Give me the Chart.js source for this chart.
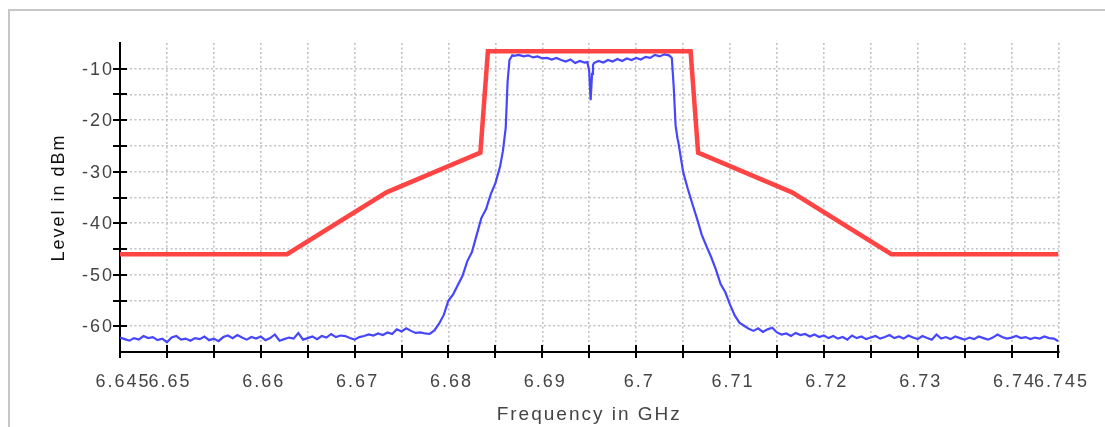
<!DOCTYPE html>
<html>
<head>
<meta charset="utf-8">
<script src="https://cdn.jsdelivr.net/npm/chart.js@4.4.1/dist/chart.umd.min.js"></script>
<style>
  html, body { margin: 0; padding: 0; background: #fff; }
  #frame { position: absolute; left: 8px; top: 9px; width: 1200px; height: 500px;
           border-left: 2px solid #c6c6c6; border-top: 2px solid #c6c6c6; }
  #Chart { position: absolute; left: 0; top: 0; }
</style>
</head>
<body>
<div id="frame"></div>
<canvas id="Chart" width="1105" height="427"></canvas>
<script>
// spectrum trace (GHz / dBm)
const traceFreq = [
  6.6450,6.6455,6.6460,6.6465,6.6470,6.6475,6.6480,6.6485,6.6490,6.6495,
  6.6500,6.6505,6.6510,6.6515,6.6520,6.6525,6.6530,6.6535,6.6540,6.6545,
  6.6550,6.6555,6.6560,6.6565,6.6570,6.6575,6.6580,6.6585,6.6590,6.6595,
  6.6600,6.6605,6.6610,6.6615,6.6620,6.6625,6.6630,6.6635,6.6640,6.6645,
  6.6650,6.6655,6.6660,6.6665,6.6670,6.6675,6.6680,6.6685,6.6690,6.6695,
  6.6700,6.6705,6.6710,6.6715,6.6720,6.6725,6.6730,6.6735,6.6740,6.6745,
  6.6750,6.6755,6.6760,6.6765,6.6770,6.6775,6.6780,6.6785,
  6.6790,6.6795,6.6800,6.6805,6.6810,6.6815,6.6820,6.6825,6.6830,6.6835,
  6.6840,6.6845,6.6850,6.6855,6.6858,6.6861,6.6863,6.6865,6.6868,
  6.6870,6.6875,6.6880,6.6885,6.6890,6.6895,6.6900,6.6905,6.6910,6.6915,
  6.6920,6.6925,6.6930,6.6935,6.6940,6.6945,6.6948,6.6950,6.6951,6.69515,
  6.6953,6.6954,6.6955,6.6960,6.6965,6.6970,6.6975,6.6980,6.6985,6.6990,
  6.6995,6.7000,6.7005,6.7010,6.7015,6.7020,6.7025,6.7030,6.7035,6.7038,
  6.7040,6.7042,6.7044,6.7045,6.7050,6.7055,6.7060,6.7065,6.7070,6.7075,
  6.7080,6.7085,6.7090,6.7095,6.7100,6.7105,6.7110,6.7115,6.7120,6.7125,
  6.7130,6.7135,6.7140,6.7145,
  6.7150,6.7155,6.7160,6.7165,6.7170,6.7175,6.7180,6.7185,6.7190,6.7195,
  6.7200,6.7205,6.7210,6.7215,6.7220,6.7225,6.7230,6.7235,6.7240,6.7245,
  6.7250,6.7255,6.7260,6.7265,6.7270,6.7275,6.7280,6.7285,6.7290,6.7295,
  6.7300,6.7305,6.7310,6.7315,6.7320,6.7325,6.7330,6.7335,6.7340,6.7345,
  6.7350,6.7355,6.7360,6.7365,6.7370,6.7375,6.7380,6.7385,6.7390,6.7395,
  6.7400,6.7405,6.7410,6.7415,6.7420,6.7425,6.7430,6.7435,6.7440,6.7445,
  6.7450
];
const traceLevel = [
  -62.2,-62.5,-62.8,-62.3,-62.6,-61.9,-62.3,-62.1,-62.7,-62.4,
  -63.1,-62.2,-61.9,-62.6,-62.4,-62.8,-62.3,-62.5,-62.0,-62.7,
  -62.4,-62.9,-62.1,-61.8,-62.3,-61.7,-62.2,-62.6,-62.1,-62.4,
  -62.0,-62.7,-62.3,-61.6,-62.8,-62.5,-62.2,-62.4,-61.3,-62.6,
  -62.3,-62.0,-62.5,-61.9,-62.2,-61.5,-62.1,-61.8,-61.9,-62.3,
  -62.6,-62.1,-61.9,-61.6,-61.8,-61.4,-61.7,-61.2,-61.5,-60.6,
  -61.0,-60.4,-60.9,-61.3,-61.2,-61.4,-61.5,-60.8,
  -59.5,-57.8,-55.0,-53.8,-52.0,-50.2,-47.4,-45.6,-42.3,-39.0,
  -37.3,-34.4,-32.2,-29.0,-26.0,-21.5,-12.5,-8.3,-7.4,
  -7.5,-7.3,-7.6,-7.4,-7.8,-7.6,-8.0,-7.9,-8.2,-7.9,
  -8.3,-8.6,-8.2,-8.9,-8.5,-8.8,-8.7,-10.5,-14.5,-16.1,
  -11.0,-9.3,-8.9,-8.5,-8.8,-8.3,-8.6,-8.1,-8.5,-8.0,
  -8.3,-7.9,-8.2,-7.7,-7.9,-7.3,-7.6,-7.2,-7.4,-7.9,
  -13.5,-21.0,-23.5,-24.3,-30.0,-33.3,-36.3,-39.2,-42.3,-44.5,
  -46.6,-49.0,-51.8,-53.4,-55.8,-57.9,-59.3,-59.9,-60.5,-60.9,
  -60.4,-61.1,-60.6,-60.3,
  -61.2,-61.6,-61.4,-61.9,-61.3,-61.7,-61.5,-62.0,-61.6,-62.1,
  -61.8,-62.3,-61.9,-62.4,-62.1,-62.6,-61.8,-62.3,-62.0,-62.5,
  -62.2,-61.9,-62.4,-62.1,-61.7,-62.3,-62.0,-62.4,-61.8,-62.2,
  -62.5,-61.9,-62.3,-62.6,-61.6,-62.4,-62.1,-62.5,-62.0,-62.3,
  -62.6,-62.2,-62.5,-62.0,-62.3,-62.6,-62.2,-61.6,-62.1,-62.4,
  -62.2,-61.9,-62.3,-62.1,-62.5,-62.2,-62.4,-62.0,-62.3,-62.4,
  -62.9
];

// limit mask
const maskFreq = [6.645, 6.6628, 6.6734, 6.6834, 6.6842, 6.7058, 6.7066, 6.7166, 6.7272, 6.745];
const maskLevel = [-46, -46, -34, -26.3, -6.6, -6.6, -26.3, -34, -46, -46];

const xTickValues = [6.645,6.65,6.655,6.66,6.665,6.67,6.675,6.68,6.685,6.69,6.695,
                     6.7,6.705,6.71,6.715,6.72,6.725,6.73,6.735,6.74,6.745];
const xTickLabels = ['6.645','6.65','','6.66','','6.67','','6.68','','6.69','',
                     '6.7','','6.71','','6.72','','6.73','','6.74','6.745'];
const yTickValues = [-65,-60,-55,-50,-45,-40,-35,-30,-25,-20,-15,-10,-5];
const yTickLabels = ['','-60','','-50','','-40','','-30','','-20','','-10',''];

const GRID = '#c2c2c2';
const NONE = 'rgba(0,0,0,0)';

// wider letter spacing like the original plot
const spacing = {
  id: 'spacing',
  beforeUpdate(chart) { chart.ctx.letterSpacing = '2px'; },
  beforeDraw(chart) { chart.ctx.letterSpacing = '2px'; }
};

// tick marks that cross the axis lines
const crossTicks = {
  id: 'crossTicks',
  afterDatasetsDraw(chart) {
    const ctx = chart.ctx;
    const xs = chart.scales.x, ys = chart.scales.y;
    const x0 = xs.getPixelForValue(6.645);
    const y0 = ys.getPixelForValue(-65);
    ctx.save();
    ctx.strokeStyle = '#000';
    ctx.lineWidth = 2;
    ctx.beginPath();
    yTickValues.forEach(v => {
      if (v === -65 || v === -5) return;
      const y = Math.round(ys.getPixelForValue(v));
      ctx.moveTo(x0 - 7, y); ctx.lineTo(x0 + 7, y);
    });
    xTickValues.forEach(v => {
      const x = Math.round(xs.getPixelForValue(v));
      ctx.moveTo(x, y0 - 7); ctx.lineTo(x, y0 + 6);
    });
    ctx.stroke();
    ctx.restore();
  }
};

const ctx = document.getElementById('Chart').getContext('2d');
const myChart = new Chart(ctx, {
  type: 'line',
  data: {
    datasets: [{
      label: 'Trace',
      data: traceFreq.map((f, i) => ({x: f, y: traceLevel[i]})),
      borderColor: 'rgb(70,70,255)',
      borderWidth: 2.2,
      pointRadius: 0,
      order: 2
    }, {
      label: 'Mask',
      data: maskFreq.map((f, i) => ({x: f, y: maskLevel[i]})),
      borderColor: 'rgb(255,68,68)',
      borderWidth: 4.5,
      pointRadius: 0,
      order: 1
    }]
  },
  options: {
    responsive: false,
    animation: false,
    layout: { padding: { top: 43, right: 46, left: 0, bottom: 0 } },
    plugins: { legend: { display: false }, tooltip: { enabled: false } },
    scales: {
      x: {
        type: 'linear',
        min: 6.645,
        max: 6.745,
        afterBuildTicks: s => { s.ticks = xTickValues.map(v => ({value: v})); },
        afterFit: s => { s.height = 75; },
        border: { color: '#000', width: 2, dash: [2, 2.5] },
        grid: {
          drawTicks: false,
          lineWidth: 1.6,
          color: c => (c.tick && c.tick.value === 6.645) ? NONE : GRID
        },
        ticks: {
          autoSkip: false,
          maxRotation: 0,
          minRotation: 0,
          padding: 19,
          labelOffset: 3,
          color: '#444',
          font: { family: 'Liberation Sans', size: 18 },
          callback: (v, i) => xTickLabels[i]
        },
        title: {
          display: true,
          text: 'Frequency in GHz',
          color: '#444',
          font: { family: 'Liberation Sans', size: 19 },
          padding: { top: 0, bottom: 1 }
        }
      },
      y: {
        min: -65,
        max: -5,
        afterBuildTicks: s => { s.ticks = yTickValues.map(v => ({value: v})); },
        afterFit: s => { s.width = 120; },
        border: { color: '#000', width: 2, dash: [2, 2.5] },
        grid: {
          drawTicks: false,
          lineWidth: 1.6,
          color: c => (c.tick && (c.tick.value === -5 || c.tick.value === -65)) ? NONE : GRID
        },
        ticks: {
          autoSkip: false,
          padding: 6,
          labelOffset: 1,
          color: '#444',
          font: { family: 'Liberation Sans', size: 18 },
          callback: (v, i) => yTickLabels[i]
        },
        title: {
          display: true,
          text: 'Level in dBm',
          color: '#111',
          font: { family: 'Liberation Sans', size: 18 },
          padding: { top: 48, bottom: 0 }
        }
      }
    }
  },
  plugins: [spacing, crossTicks]
});
</script>
</body>
</html>
